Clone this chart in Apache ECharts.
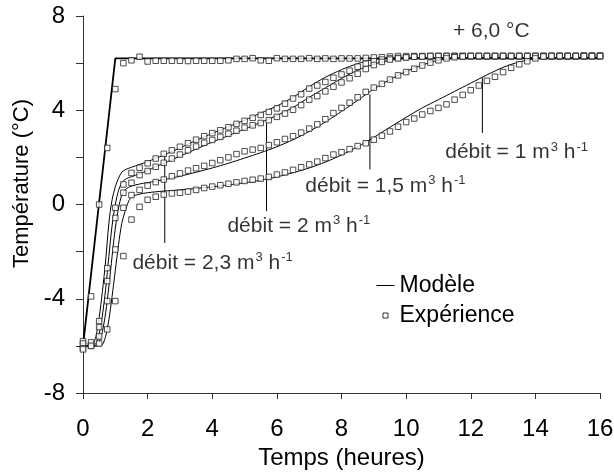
<!DOCTYPE html>
<html>
<head>
<meta charset="utf-8">
<script src="https://cdn.jsdelivr.net/npm/echarts@6/dist/echarts.min.js"></script>
<style>html,body{margin:0;padding:0;background:#fff}#c{width:614px;height:472px}</style>
</head>
<body>
<div id="c"></div>
<script>
// ---------- DATA ----------
const xTicks = [0, 2, 4, 6, 8, 10, 12, 14, 16];
const yTickLabels = [-8, -4, 0, 4, 8];

// experimental sampling times (h)
const expTime = [0,0.25,0.5,0.75,1,1.25,1.5,1.75,2,2.25,2.5,2.75,3,3.25,3.5,3.75,4,4.25,4.5,4.75,5,5.25,5.5,5.75,6,6.25,6.5,6.75,7,7.25,7.5,7.75,8,8.25,8.5,8.75,9,9.25,9.5,9.75,10,10.25,10.5,10.75,11,11.25,11.5,11.75,12,12.25,12.5,12.75,13,13.25,13.5,13.75,14,14.25,14.5,14.75,15,15.25,15.5,15.75,16];

// experiment: inlet air step (+6,0 °C)
const expInlet = [-5.8,-3.9,0.0,2.4,4.9,6.0,6.12,6.27,6.07,6.1,6.1,6.1,6.1,6.09,6.1,6.1,6.1,6.1,6.12,6.18,6.18,6.21,6.12,6.1,6.21,6.18,6.18,6.18,6.21,6.18,6.2,6.18,6.2,6.2,6.2,6.22,6.24,6.25,6.28,6.3,6.3,6.3,6.3,6.3,6.3,6.3,6.3,6.3,6.3,6.3,6.3,6.3,6.3,6.3,6.3,6.3,6.3,6.3,6.3,6.3,6.3,6.3,6.32,6.32,6.32];
// experiment: débit = 2,3 m3/h
const exp23 = [-6.0,-5.95,-4.95,-2.7,-0.14,0.85,1.34,1.56,1.75,1.95,2.15,2.3,2.45,2.6,2.75,2.9,3.03,3.15,3.28,3.42,3.55,3.68,3.8,3.93,4.08,4.28,4.5,4.68,4.92,5.05,5.2,5.38,5.52,5.68,5.85,5.98,6.08,6.15,6.2,6.22,6.25,6.27,6.28,6.3,6.3,6.3,6.3,6.3,6.3,6.3,6.3,6.3,6.3,6.3,6.3,6.3,6.3,6.3,6.3,6.3,6.3,6.3,6.3,6.3,6.3];
// experiment: débit = 2 m3/h
const exp2 = [-5.9,-6.0,-5.2,-3.25,-0.57,0.5,0.92,1.25,1.42,1.6,1.77,1.95,2.12,2.3,2.46,2.62,2.74,2.87,3.0,3.13,3.26,3.36,3.46,3.58,3.72,3.86,4.02,4.22,4.45,4.6,4.8,5.0,5.18,5.36,5.55,5.75,5.92,6.05,6.15,6.2,6.24,6.27,6.28,6.3,6.3,6.3,6.3,6.3,6.3,6.3,6.3,6.3,6.3,6.3,6.3,6.3,6.3,6.3,6.3,6.3,6.3,6.3,6.3,6.3,6.3];
// experiment: débit = 1,5 m3/h
const exp15 = [-6.1,-5.85,-5.6,-4.1,-1.91,-0.14,0.4,0.62,0.8,0.95,1.06,1.2,1.32,1.44,1.54,1.64,1.76,1.88,2.0,2.14,2.26,2.33,2.4,2.52,2.64,2.78,2.9,3.05,3.22,3.4,3.62,3.88,4.1,4.32,4.55,4.78,4.96,5.12,5.3,5.48,5.62,5.76,5.9,6.02,6.12,6.2,6.25,6.28,6.3,6.3,6.3,6.3,6.3,6.3,6.3,6.3,6.3,6.3,6.3,6.3,6.3,6.3,6.3,6.3,6.3];
// experiment: débit = 1 m3/h
const exp1 = [-6.15,-6.0,-5.9,-5.3,-4.1,-2.19,-0.64,-0.1,0.2,0.33,0.42,0.47,0.5,0.55,0.62,0.7,0.76,0.82,0.88,0.94,1.0,1.05,1.1,1.17,1.27,1.36,1.47,1.58,1.7,1.82,1.97,2.12,2.22,2.35,2.48,2.6,2.75,2.92,3.1,3.3,3.5,3.65,3.82,3.97,4.1,4.25,4.45,4.65,4.85,5.05,5.25,5.42,5.62,5.8,5.95,6.08,6.2,6.28,6.3,6.3,6.3,6.3,6.3,6.3,6.3];

// model
const inletModelTime = [0, 1.0, 16];
const inletModel = [-6.0, 6.2, 6.2];
const modelTime = [0,0.2,0.3,0.4,0.5,0.6,0.7,0.8,0.9,1.0,1.1,1.2,1.3,1.4,1.5,1.75,2,2.5,3,3.5,4,4.5,5,5.5,6,6.5,7,7.5,8,8.5,9,9.5,10,10.5,11,11.5,12,12.5,13,13.5,14,14.5,15,15.5,16];
const model23 = [-6,-6,-5.95,-5.6,-4.8,-3.7,-2.4,-0.8,0.2,0.75,1.12,1.37,1.47,1.53,1.58,1.7,1.82,2.1,2.4,2.72,3.02,3.3,3.58,3.88,4.18,4.55,5.0,5.4,5.72,5.98,6.15,6.22,6.22,6.22,6.22,6.22,6.22,6.22,6.22,6.22,6.22,6.22,6.22,6.22,6.22];
const model2 = [-6,-6,-6,-5.9,-5.5,-4.7,-3.6,-2.2,-0.9,0.0,0.6,0.92,1.06,1.13,1.18,1.3,1.45,1.75,2.05,2.35,2.65,2.92,3.2,3.48,3.78,4.12,4.55,4.95,5.35,5.7,5.95,6.12,6.2,6.22,6.22,6.22,6.22,6.22,6.22,6.22,6.22,6.22,6.22,6.22,6.22];
const model15 = [-6,-6,-6,-6,-5.85,-5.4,-4.6,-3.5,-2.2,-1.0,-0.15,0.4,0.62,0.72,0.78,0.87,0.93,1.05,1.2,1.37,1.55,1.75,1.97,2.2,2.45,2.75,3.1,3.5,3.95,4.42,4.9,5.3,5.65,5.92,6.12,6.2,6.22,6.22,6.22,6.22,6.22,6.22,6.22,6.22,6.22];
const model1 = [-6,-6,-6,-6,-6,-5.95,-5.6,-4.9,-3.9,-2.8,-1.7,-0.8,-0.3,0.1,0.32,0.44,0.5,0.57,0.62,0.68,0.75,0.83,0.92,1.03,1.17,1.35,1.55,1.8,2.1,2.45,2.85,3.28,3.7,4.1,4.45,4.8,5.15,5.5,5.82,6.05,6.18,6.22,6.22,6.22,6.22];

// annotation leaders (data units)
const leaderX = [2.53, 5.68, 8.88, 12.36];
const leaderTop = [2.12, 3.45, 4.67, 5.38];
const leaderBottom = [-1.63, -0.28, 1.49, 3.04];

// annotation texts and their anchors (left edge, vertical middle; data units)
const noteText = ['débit = 2,3 m{s|3} h{s|-1}', 'débit = 2 m{s|3} h{s|-1}', 'débit = 1,5 m{s|3} h{s|-1}', 'débit = 1 m{s|3} h{s|-1}', '+ 6,0 °C'];
const noteX = [1.53, 4.47, 6.88, 11.21, 11.45];
const noteY = [-2.5, -0.93, 0.78, 2.21, 7.36];

// ---------- CHART ----------
const FONT = '"Liberation Sans", Arial, sans-serif';
const pairs = (xs, ys) => xs.map((x, i) => [x, ys[i]]);
const chart = echarts.init(document.getElementById('c'), null, {renderer: 'canvas'});

const series = [];
const lineCommon = {type: 'line', name: 'Modèle', showSymbol: false, symbol: 'none', smooth: 0.3, silent: true,
  itemStyle: {color: '#000'}, z: 2};
series.push(Object.assign({}, lineCommon, {data: pairs(inletModelTime, inletModel), smooth: false, lineStyle: {color: '#000', width: 1.8}}));
[model23, model2, model15, model1].forEach(m => {
  series.push(Object.assign({}, lineCommon, {data: pairs(modelTime, m), lineStyle: {color: '#000', width: 1}}));
});
[expInlet, exp23, exp2, exp15, exp1].forEach(e => {
  series.push({type: 'scatter', name: 'Expérience', symbol: 'rect', symbolSize: 5.5, silent: true, z: 3,
    itemStyle: {color: '#fff', borderColor: '#222', borderWidth: 1}, data: pairs(expTime, e)});
});
leaderX.forEach((x, i) => {
  series.push({type: 'line', name: 'leader', showSymbol: false, symbol: 'none', silent: true, z: 2,
    lineStyle: {color: '#000', width: 1}, data: [[x, leaderTop[i]], [x, leaderBottom[i]]]});
});
series.push({type: 'scatter', name: 'notes', symbolSize: 0, silent: true, z: 4,
  data: noteX.map((x, i) => ({value: [x, noteY[i]], label: {formatter: noteText[i]}})),
  label: {show: true, position: [0, 0], align: 'left', verticalAlign: 'middle',
    fontFamily: FONT, fontSize: 21, color: '#000', lineHeight: 24,
    rich: {s: {fontFamily: FONT, fontSize: 13, color: '#000', verticalAlign: 'top', lineHeight: 13, padding: [0, 0, 0, 1]}}}
});

chart.setOption({
  animation: false,
  backgroundColor: '#fff',
  grid: {left: 83, right: 14, top: 16, bottom: 79, containLabel: false, outerBoundsMode: 'none'},
  xAxis: {type: 'value', min: 0, max: 16, interval: 2,
    name: 'Temps (heures)', nameLocation: 'middle', nameGap: 49,
    nameTextStyle: {fontFamily: FONT, fontSize: 24, color: '#000'},
    axisLine: {show: true, onZero: false, lineStyle: {color: '#333', width: 1}},
    axisTick: {show: true, inside: false, length: 6, lineStyle: {color: '#333'}},
    axisLabel: {margin: 24, fontFamily: FONT, fontSize: 24, color: '#000', showMinLabel: true, showMaxLabel: true,
      formatter: v => xTicks.includes(v) ? String(v) : ''},
    splitLine: {show: false}},
  yAxis: {type: 'value', min: -8, max: 8, interval: 2,
    name: 'Température (°C)', nameLocation: 'middle', nameGap: 47, nameRotate: 90,
    nameTextStyle: {fontFamily: FONT, fontSize: 22, color: '#000', padding: [0, 0, 0, 42]},
    axisLine: {show: true, onZero: false, lineStyle: {color: '#333', width: 1}},
    axisTick: {show: true, inside: false, length: 7, lineStyle: {color: '#333'}},
    axisLabel: {margin: 18, fontFamily: FONT, fontSize: 24, color: '#000', showMinLabel: true, showMaxLabel: true,
      formatter: v => yTickLabels.includes(v) ? String(v) : ''},
    splitLine: {show: false}},
  legend: {orient: 'vertical', left: 371, top: 269, itemWidth: 18, itemHeight: 13, itemGap: 7, selectedMode: false,
    textStyle: {fontFamily: FONT, fontSize: 23, color: '#000', lineHeight: 23},
    data: [
      {name: 'Modèle', icon: 'path://M0,0M0,6H18V7H0ZM18,13', itemStyle: {color: '#000', borderWidth: 0}},
      {name: 'Expérience', icon: 'path://M0,0M6.5,4H11.5V9H6.5ZM18,13', itemStyle: {color: '#fff', borderColor: '#000', borderWidth: 1}}
    ]},
  series: series
});
</script>
</body>
</html>
